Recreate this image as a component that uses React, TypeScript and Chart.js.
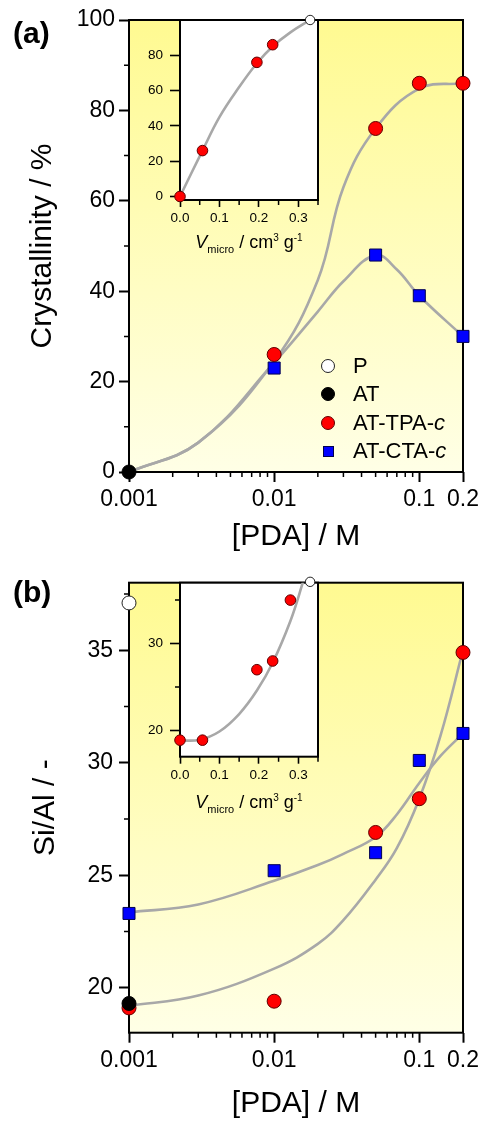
import React, { useEffect, useRef } from 'react';
import { Chart, registerables } from 'chart.js';

Chart.register(...registerables);

const FONT = 'Arial, "Liberation Sans", Helvetica, sans-serif';
const GRAY = 'rgb(168,168,168)';

// ===== Panel (a): crystallinity vs [PDA]
const pdaAT = [0.001];
const crystAT = [0];
const pdaTPA = [0.01, 0.05, 0.1, 0.2];
const crystTPA = [26, 76, 86, 86];
const pdaCTA = [0.01, 0.05, 0.1, 0.2];
const crystCTA = [23, 48, 39, 30];

// guide curves
const fitTPAaX = [0.001, 0.003, 0.01, 0.02, 0.03, 0.05, 0.1, 0.2];
const fitTPAaY = [0, 6.5, 24.5, 42.5, 63, 76, 84.8, 86];
const fitCTAaX = [0.001, 0.003, 0.01, 0.02, 0.03, 0.05, 0.07, 0.1, 0.2];
const fitCTAaY = [0, 6.5, 24.2, 35.5, 42.2, 48, 44.8, 39, 30];

// inset (a): crystallinity vs V_micro
const vmicroTPAa = [0, 0.057, 0.195, 0.235];
const crystInset = [0, 26, 76, 86];
const vmicroP = [0.33];
const crystInsetP = [100];
const fitInsetAX = [0, 0.057, 0.1, 0.15, 0.195, 0.235, 0.28, 0.33];
const fitInsetAY = [0, 26, 45, 62, 75.5, 85, 93, 100];

// ===== Panel (b): Si/Al vs [PDA]
const pdaP = [0.001];
const siAlP = [37.1];
const siAlAT = [19.3];
const pdaTPAb = [0.001, 0.01, 0.05, 0.1, 0.2];
const siAlTPA = [19.1, 19.4, 26.9, 28.4, 34.9];
const pdaCTAb = [0.001, 0.01, 0.05, 0.1, 0.2];
const siAlCTA = [23.3, 25.2, 26.0, 30.1, 31.3];

const fitTPAbX = [0.001, 0.003, 0.01, 0.02, 0.03, 0.05, 0.07, 0.1, 0.14, 0.2];
const fitTPAbY = [19.2, 19.65, 20.85, 21.95, 23.0, 24.8, 26.2, 28.4, 31.2, 35.0];
const fitCTAbX = [0.001, 0.003, 0.01, 0.02, 0.03, 0.05, 0.07, 0.1, 0.14, 0.2];
const fitCTAbY = [23.35, 23.7, 24.75, 25.45, 25.95, 26.7, 27.7, 29.1, 30.3, 31.3];

// inset (b): Si/Al vs V_micro
const vmicroTPAb = [0, 0.057, 0.195, 0.235, 0.28];
const siAlInset = [18.9, 18.9, 27.0, 28.0, 35.0];
const siAlInsetP = [37.1];
const fitInsetBX = [0, 0.05, 0.1, 0.15, 0.195, 0.235, 0.28, 0.31, 0.33];
const fitInsetBY = [18.85, 18.95, 19.9, 21.9, 24.6, 27.8, 32.6, 36.8, 40];

// ===== ticks
const pdaTicks = [0.001, 0.01, 0.1, 0.2];
const pdaMinor = [0.002, 0.003, 0.004, 0.005, 0.006, 0.007, 0.008, 0.009, 0.02, 0.03, 0.04, 0.05, 0.06, 0.07, 0.08, 0.09];
const crystTicks = [0, 20, 40, 60, 80, 100];
const crystMinor = [10, 30, 50, 70, 90];
const siAlTicks = [20, 25, 30, 35];
const siAlMinor = [22.5, 27.5, 32.5, 37.5];
const vmicroTicks = [0, 0.1, 0.2, 0.3];
const vmicroMinor = [0.05, 0.15, 0.25, 0.35];
const insetCrystTicks = [0, 20, 40, 60, 80];
const insetSiAlTicks = [20, 30];
const insetSiAlMinor = [25, 35];

const legendNames = ['P', 'AT', 'AT-TPA-', 'AT-CTA-'];
const legendItalic = ['', '', 'c', 'c'];

// ===== styles
const STY: any = {
  P: { pointStyle: 'circle', r: 7, bg: '#ffffff', bd: '#222222' },
  AT: { pointStyle: 'circle', r: 7, bg: '#000000', bd: '#000000' },
  TPA: { pointStyle: 'circle', r: 7, bg: '#ff0000', bd: '#600000' },
  CTA: { pointStyle: 'rect', r: 8.5, bg: '#0000ff', bd: '#000050' },
};

const pts = (xs: number[], ys: number[]) => xs.map((x, i) => ({ x, y: ys[i] }));

const markers = (label: string, xs: number[], ys: number[], s: any, order: number, r?: number) => ({
  type: 'scatter',
  label,
  data: pts(xs, ys),
  pointStyle: s.pointStyle,
  pointRadius: r ?? s.r,
  backgroundColor: s.bg,
  borderColor: s.bd,
  borderWidth: 1,
  showLine: false,
  clip: false,
  order,
});

const fitLine = (xs: number[], ys: number[]) => ({
  type: 'line',
  label: 'fit',
  data: pts(xs, ys),
  borderColor: GRAY,
  borderWidth: 2.6,
  pointRadius: 0,
  fill: false,
  tension: 0.4,
  order: 10,
});

function decor(o: { fill: string; xMinor: number[]; yMinor: number[]; xMinorLen: number; yMinorLen: number }) {
  return {
    id: 'decor',
    beforeDraw(chart: any) {
      const { ctx, chartArea: a } = chart;
      ctx.save();
      if (o.fill === 'gradient') {
        const g = ctx.createLinearGradient(0, a.top, 0, a.bottom);
        g.addColorStop(0, 'rgb(255,250,145)');
        g.addColorStop(1, 'rgb(255,255,230)');
        ctx.fillStyle = g;
      } else {
        ctx.fillStyle = '#ffffff';
      }
      ctx.fillRect(a.left, a.top, a.right - a.left, a.bottom - a.top);
      ctx.restore();
    },
    beforeDatasetsDraw(chart: any) {
      const { ctx, chartArea: a, scales } = chart;
      ctx.save();
      ctx.strokeStyle = '#000';
      ctx.lineWidth = 1.5;
      ctx.beginPath();
      o.xMinor.forEach((v) => {
        const x = scales.x.getPixelForValue(v);
        ctx.moveTo(x, a.bottom);
        ctx.lineTo(x, a.bottom + o.xMinorLen);
      });
      o.yMinor.forEach((v) => {
        const y = scales.y.getPixelForValue(v);
        ctx.moveTo(a.left, y);
        ctx.lineTo(a.left - o.yMinorLen, y);
      });
      ctx.stroke();
      ctx.lineWidth = 2;
      ctx.strokeRect(a.left, a.top, a.right - a.left, a.bottom - a.top);
      ctx.restore();
    },
  };
}

function mainChart(canvas: HTMLCanvasElement, p: any) {
  return new Chart(canvas, {
    type: 'scatter',
    data: { datasets: p.datasets },
    options: {
      responsive: false,
      animation: false,
      devicePixelRatio: 1,
      events: [],
      layout: { padding: { left: 0, right: 23, top: p.padTop, bottom: 0 } },
      plugins: { legend: { display: false }, tooltip: { enabled: false } },
      scales: {
        x: {
          type: 'logarithmic',
          min: 0.001,
          max: 0.2,
          afterBuildTicks: (s: any) => { s.ticks = pdaTicks.map((v) => ({ value: v })); },
          afterFit: (s: any) => { s.height = p.xHeight; },
          ticks: { callback: (v: any) => String(v), font: { family: FONT, size: 23 }, color: '#000', padding: 4, maxRotation: 0, autoSkip: false },
          grid: { drawOnChartArea: false, drawTicks: true, tickLength: 10, tickWidth: 2, tickColor: '#000' },
          border: { display: false },
          title: { display: true, text: '[PDA] / M', color: '#000', font: { family: FONT, size: 30, lineHeight: 1 }, padding: { top: 0, bottom: p.xTitlePad } },
        },
        y: {
          type: 'linear',
          min: p.yMin,
          max: p.yMax,
          afterBuildTicks: (s: any) => { s.ticks = p.yTicks.map((v: number) => ({ value: v })); },
          afterFit: (s: any) => { s.width = 129; },
          ticks: { callback: (v: any) => String(v), font: { family: FONT, size: 23 }, color: '#000', padding: p.yTickPad, autoSkip: false },
          grid: { drawOnChartArea: false, drawTicks: true, tickLength: 10, tickWidth: 2, tickColor: '#000' },
          border: { display: false },
          title: { display: true, text: p.yTitle, color: '#000', font: { family: FONT, size: 30, lineHeight: 1 }, padding: { top: p.yTitlePad, bottom: 0 } },
        },
      },
    } as any,
    plugins: [decor({ fill: 'gradient', xMinor: pdaMinor, yMinor: p.yMinor, xMinorLen: 5, yMinorLen: 5 })],
  } as any);
}

function insetChart(canvas: HTMLCanvasElement, p: any) {
  return new Chart(canvas, {
    type: 'scatter',
    data: { datasets: p.datasets },
    options: {
      responsive: false,
      animation: false,
      devicePixelRatio: 1,
      events: [],
      layout: { padding: { left: 0, right: 12, top: p.padTop, bottom: 0 } },
      plugins: { legend: { display: false }, tooltip: { enabled: false } },
      scales: {
        x: {
          type: 'linear',
          min: 0,
          max: 0.35,
          afterBuildTicks: (s: any) => { s.ticks = vmicroTicks.map((v) => ({ value: v })); },
          afterFit: (s: any) => { s.height = p.xHeight; },
          ticks: { callback: (v: any) => Number(v).toFixed(1), font: { family: FONT, size: 13.5 }, color: '#000', padding: 3, maxRotation: 0, autoSkip: false },
          grid: { drawOnChartArea: false, drawTicks: true, tickLength: 7, tickWidth: 1.6, tickColor: '#000' },
          border: { display: false },
        },
        y: {
          type: 'linear',
          min: p.yMin,
          max: p.yMax,
          afterBuildTicks: (s: any) => { s.ticks = p.yTicks.map((v: number) => ({ value: v })); },
          afterFit: (s: any) => { s.width = 50; },
          ticks: { callback: (v: any) => String(v), font: { family: FONT, size: 13.5 }, color: '#000', padding: 7, autoSkip: false },
          grid: { drawOnChartArea: false, drawTicks: true, tickLength: 10, tickWidth: 1.6, tickColor: '#000' },
          border: { display: false },
        },
      },
    } as any,
    plugins: [decor({ fill: 'white', xMinor: vmicroMinor, yMinor: p.yMinor, xMinorLen: 5, yMinorLen: 5 })],
  } as any);
}

function VTitle({ top }: { top: number }) {
  return (
    <div style={{ position: 'absolute', left: 180, width: 138, top, textAlign: 'center', fontFamily: FONT, fontSize: 18, lineHeight: '18px', color: '#000', whiteSpace: 'nowrap' }}>
      <i>V</i>
      <span style={{ fontSize: 11, position: 'relative', top: 5 }}>micro</span>
      {' / cm'}
      <span style={{ fontSize: 10, position: 'relative', top: -7 }}>3</span>
      {' g'}
      <span style={{ fontSize: 10, position: 'relative', top: -7 }}>-1</span>
    </div>
  );
}

function Legend() {
  const marks = [STY.P, STY.AT, STY.TPA, STY.CTA];
  const centers = [366, 394, 422.5, 451];
  return (
    <>
      {legendNames.map((name, i) => {
        const m = marks[i];
        const isRect = m.pointStyle === 'rect';
        const d = isRect ? 11 : 14;
        return (
          <div key={name} style={{ position: 'absolute', left: 321, top: centers[i] - 11, height: 22, display: 'flex', alignItems: 'center', fontFamily: FONT, fontSize: 22, lineHeight: '22px', color: '#000', whiteSpace: 'nowrap' }}>
            <div style={{ width: 14, display: 'flex', justifyContent: 'center' }}>
              <div style={{ width: d, height: d, boxSizing: 'border-box', background: m.bg, border: `1px solid ${m.bd}`, borderRadius: isRect ? 0 : '50%' }} />
            </div>
            <span style={{ marginLeft: 18 }}>
              {name}
              {legendItalic[i] ? <i>{legendItalic[i]}</i> : null}
            </span>
          </div>
        );
      })}
    </>
  );
}

export default function App() {
  const aRef = useRef<HTMLCanvasElement>(null);
  const aiRef = useRef<HTMLCanvasElement>(null);
  const bRef = useRef<HTMLCanvasElement>(null);
  const biRef = useRef<HTMLCanvasElement>(null);

  useEffect(() => {
    const charts: Chart[] = [];
    charts.push(mainChart(aRef.current!, {
      padTop: 20, xHeight: 88, xTitlePad: 8, yTitlePad: 28, yTickPad: 4,
      yMin: 0, yMax: 100, yTicks: crystTicks, yMinor: crystMinor, yTitle: 'Crystallinity / %',
      datasets: [
        markers('AT', pdaAT, crystAT, STY.AT, 0),
        markers('AT-TPA-c', pdaTPA, crystTPA, STY.TPA, 1),
        markers('AT-CTA-c', pdaCTA, crystCTA, STY.CTA, 1),
        fitLine(fitTPAaX, fitTPAaY),
        fitLine(fitCTAaX, fitCTAaY),
      ],
    }));
    charts.push(insetChart(aiRef.current!, {
      padTop: 20, xHeight: 60, yMin: -2, yMax: 100, yTicks: insetCrystTicks, yMinor: [],
      datasets: [
        markers('P', vmicroP, crystInsetP, STY.P, 0, 4.7),
        markers('AT-TPA-c', vmicroTPAa, crystInset, STY.TPA, 1, 5.3),
        fitLine(fitInsetAX, fitInsetAY),
      ],
    }));
    charts.push(mainChart(bRef.current!, {
      padTop: 22.7, xHeight: 96.3, xTitlePad: 10.7, yTitlePad: 31, yTickPad: 6,
      yMin: 18, yMax: 38, yTicks: siAlTicks, yMinor: siAlMinor, yTitle: 'Si/Al / -',
      datasets: [
        markers('P', pdaP, siAlP, STY.P, 0),
        markers('AT', pdaAT, siAlAT, STY.AT, 0),
        markers('AT-TPA-c', pdaTPAb, siAlTPA, STY.TPA, 1),
        markers('AT-CTA-c', pdaCTAb, siAlCTA, STY.CTA, 1),
        fitLine(fitTPAbX, fitTPAbY),
        fitLine(fitCTAbX, fitCTAbY),
      ],
    }));
    charts.push(insetChart(biRef.current!, {
      padTop: 22.7, xHeight: 63.3, yMin: 17, yMax: 37, yTicks: insetSiAlTicks, yMinor: insetSiAlMinor,
      datasets: [
        markers('P', vmicroP, siAlInsetP, STY.P, 0, 4.7),
        markers('AT-TPA-c', vmicroTPAb, siAlInset, STY.TPA, 1, 5.3),
        fitLine(fitInsetBX, fitInsetBY),
      ],
    }));
    return () => charts.forEach((c) => c.destroy());
  }, []);

  return (
    <div style={{ position: 'absolute', left: 0, top: 0, width: 486, height: 1129, background: '#fff', overflow: 'hidden' }}>
      <canvas ref={aRef} width={486} height={560} style={{ position: 'absolute', left: 0, top: 0, width: 486, height: 560 }} />
      <canvas ref={aiRef} width={200} height={260} style={{ position: 'absolute', left: 130, top: 0, width: 200, height: 260 }} />
      <canvas ref={bRef} width={486} height={569} style={{ position: 'absolute', left: 0, top: 560, width: 486, height: 569 }} />
      <canvas ref={biRef} width={200} height={260} style={{ position: 'absolute', left: 130, top: 560, width: 200, height: 260 }} />
      <div style={{ position: 'absolute', left: 13, top: 17.5, fontFamily: FONT, fontWeight: 'bold', fontSize: 30, lineHeight: '30px', color: '#000' }}>(a)</div>
      <div style={{ position: 'absolute', left: 13, top: 577, fontFamily: FONT, fontWeight: 'bold', fontSize: 30, lineHeight: '30px', color: '#000' }}>(b)</div>
      <VTitle top={233} />
      <VTitle top={793} />
      <Legend />
    </div>
  );
}
